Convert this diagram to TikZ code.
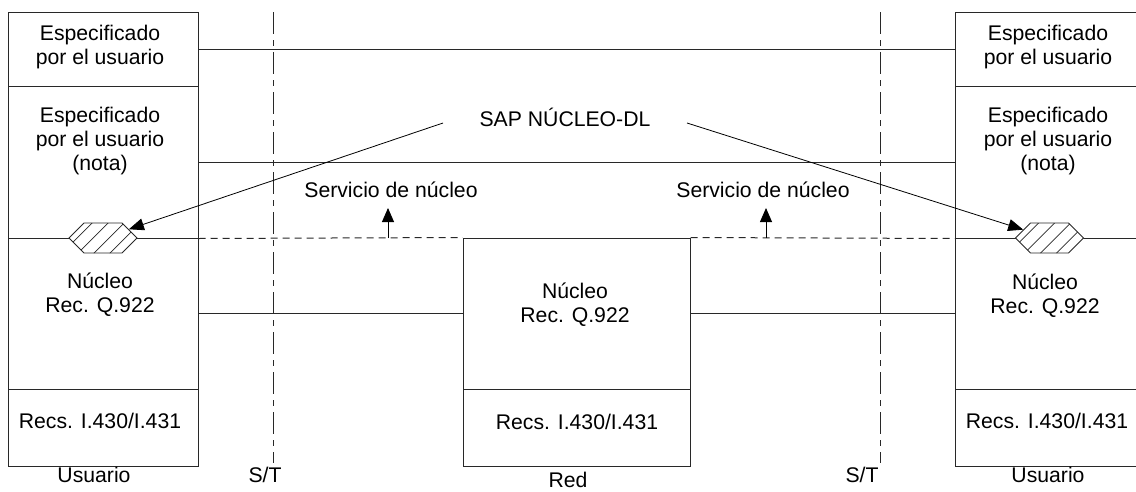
\documentclass[tikz,border=0pt]{standalone}
\usepackage{fontspec}
\setmainfont{Liberation Sans}
\usetikzlibrary{arrows.meta,shapes.symbols}
\definecolor{linec}{RGB}{40,40,40}
\begin{document}
\begin{tikzpicture}[x=1pt,y=-1pt,
  cell/.style={draw=linec, line width=1pt, inner sep=0pt},
  cellL/.style={cell, minimum width=190pt},
  cellM/.style={cell, minimum width=227pt},
  cellR/.style={cell, minimum width=186pt},
  txt/.style={font=\fontsize{21.2}{24}\selectfont, align=center, inner sep=0pt, text=black},
  link/.style={draw=linec, line width=1pt},
  dashline/.style={draw=linec, line width=1pt, dash pattern=on 7pt off 5pt},
  sepline/.style={draw=linec, line width=1pt, dash pattern=on 22pt off 6pt on 6pt off 6pt},
  arr/.style={draw=black, line width=0.8pt, -{Triangle[length=15pt,width=12pt]}},
  uparr/.style={draw=black, line width=0.9pt, -{Triangle[length=14pt,width=12pt]}},
  hexa/.style={shape=signal, signal to=east and west, signal pointer angle=90,
    draw=linec, fill=white, line width=0.9pt, minimum width=68pt, minimum height=30pt, inner sep=0pt,
    path picture={\foreach \k in {-78,-62,...,50}
      \draw[line width=0.7pt] ([shift={(\k pt,-20pt)}]path picture bounding box.center) -- ++(40pt,40pt);}}
]
\useasboundingbox (0,0) rectangle (1136,491);

% left column
\node[cellL, minimum height=74pt]  (lu1) at (103,49) {};
\node[cellL, minimum height=152pt] (lu2) at (103,162) {};
\node[cellL, minimum height=151pt] (lu3) at (103,313.5) {};
\node[cellL, minimum height=77pt]  (lu4) at (103,427.5) {};
% middle column
\node[cellM, minimum height=151pt] (mid3) at (576.5,313.5) {};
\node[cellM, minimum height=77pt]  (mid4) at (576.5,427.5) {};
% right column (open on the right)
\node[cellR, minimum height=74pt]  (ru1) at (1048,49) {};
\node[cellR, minimum height=152pt] (ru2) at (1048,162) {};
\node[cellR, minimum height=151pt] (ru3) at (1048,313.5) {};
\node[cellR, minimum height=77pt]  (ru4) at (1048,427.5) {};

% horizontal links
\draw[link] (lu1.east) -- (ru1.west);
\draw[link] (lu2.east) -- (ru2.west);
\draw[link] (lu3.east) -- (mid3.west);
\draw[link] (mid3.east) -- (ru3.west);
\draw[dashline] (lu2.south east) -- (mid3.north west);
\draw[dashline] (mid3.north east) -- (ru2.south west);

% S/T reference lines
\coordinate (stLt) at (273,12);  \coordinate (stLb) at (273,463);
\coordinate (stRt) at (880,12);  \coordinate (stRb) at (880,463);
\draw[sepline] (stLt) -- (stLb);
\draw[sepline] (stRt) -- (stRb);

% hexagons (SAP)
\node[hexa] (hexL) at (103,238) {};
\node[hexa] (hexR) at (1049.5,238) {};

% texts
\node[txt] (t1) at (100,46.7) {Especificado\\por el usuario};
\node[txt] (t2) at (100,140.7) {Especificado\\por el usuario\\(nota)};
\node[txt] (t3) at (100,295) {Núcleo\\Rec. Q.922};
\node[txt, anchor=base] (t4) at (100,428) {Recs. I.430/I.431};
\node[txt, anchor=base] (t5) at (94,482) {Usuario};

\node[txt] (r1) at (1048,46.7) {Especificado\\por el usuario};
\node[txt] (r2) at (1048,140.7) {Especificado\\por el usuario\\(nota)};
\node[txt] (r3) at (1045,296) {Núcleo\\Rec. Q.922};
\node[txt, anchor=base] (r4) at (1047,428) {Recs. I.430/I.431};
\node[txt, anchor=base] (r5) at (1048,482) {Usuario};

\node[txt] (m3) at (575,305) {Núcleo\\Rec. Q.922};
\node[txt, anchor=base] (m4) at (577,429) {Recs. I.430/I.431};
\node[txt, anchor=base] (m5) at (568,487) {Red};

\node[txt, anchor=base] (stL) at (265,482) {S/T};
\node[txt, anchor=base] (stR) at (862,482) {S/T};

\node[txt, anchor=base] (sap) at (565,126) {SAP NÚCLEO-DL};
\node[txt, anchor=base] (svL) at (391,197) {Servicio de núcleo};
\node[txt, anchor=base] (svR) at (763,197) {Servicio de núcleo};

% SAP arrows
\coordinate (sapL) at (443,123);
\coordinate (sapR) at (687,123);
\draw[arr] (sapL) -- (hexL);
\draw[arr] (sapR) -- (hexR);

% service arrows
\coordinate (svL0) at (388,238); \coordinate (svL1) at (388,208);
\coordinate (svR0) at (766,238); \coordinate (svR1) at (766,208);
\draw[uparr] (svL0) -- (svL1);
\draw[uparr] (svR0) -- (svR1);
\end{tikzpicture}
\end{document}
